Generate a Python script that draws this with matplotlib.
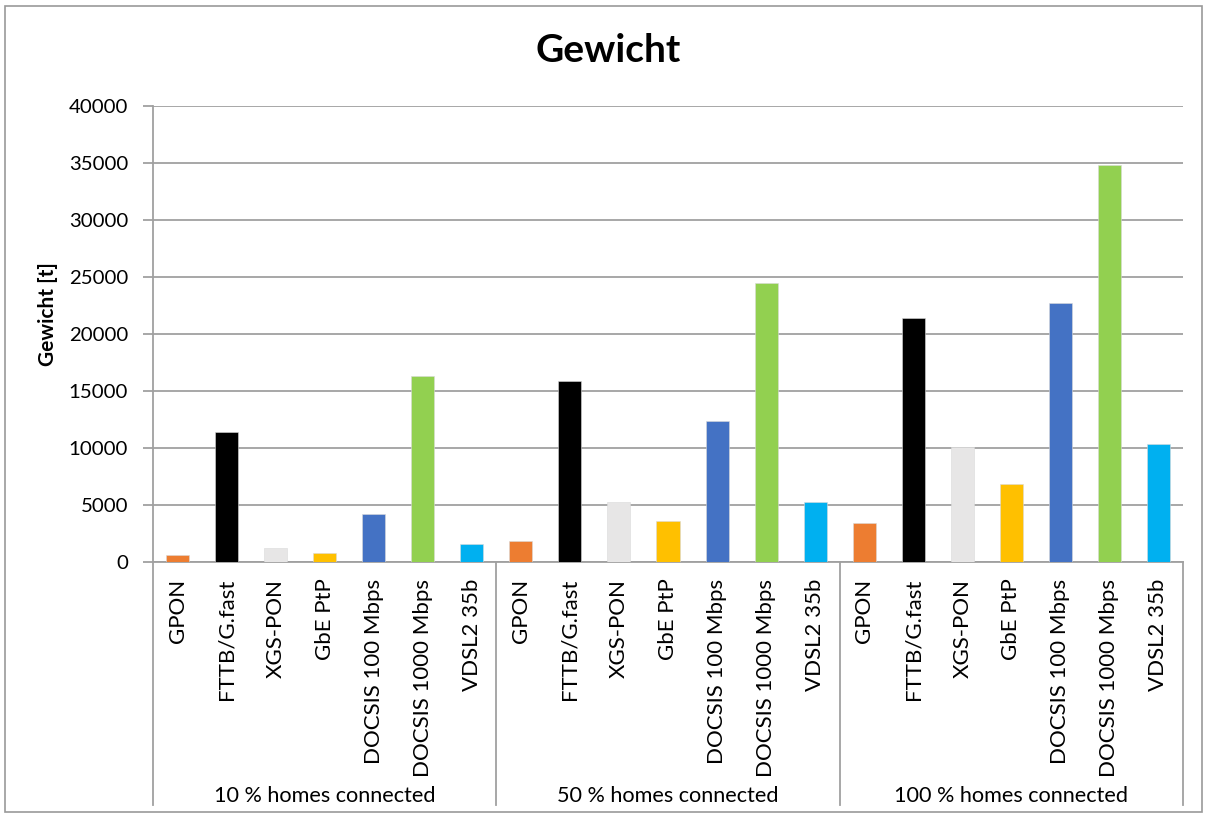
import matplotlib
matplotlib.use('Agg')
import matplotlib.pyplot as plt
from matplotlib.patches import Rectangle
from matplotlib.lines import Line2D
import matplotlib.transforms as mtransforms

plt.rcParams['font.family'] = ['Lato', 'DejaVu Sans']

# data
technologies = ['GPON', 'FTTB/G.fast', 'XGS-PON', 'GbE PtP',
                'DOCSIS 100 Mbps', 'DOCSIS 1000 Mbps', 'VDSL2 35b']
groups = ['10 % homes connected', '50 % homes connected', '100 % homes connected']
weight_10 = [600, 11400, 1250, 790, 4180, 16300, 1580]
weight_50 = [1840, 15900, 5260, 3600, 12370, 24470, 5260]
weight_100 = [3420, 21400, 10090, 6840, 22720, 34820, 10350]
colors = ['#ED7D31', '#000000', '#E7E6E6', '#FFC000', '#4472C4', '#92D050', '#00B0F0']

fig = plt.figure(figsize=(12.07, 8.17), dpi=100)
ax = fig.add_axes([153/1207, 1-562/817, (1183-153)/1207, (562-106)/817])

all_vals = [weight_10, weight_50, weight_100]
n = len(technologies)
labels = []
for g, vals in enumerate(all_vals):
    xs = [g*n + i for i in range(n)]
    ax.bar(xs, vals, width=0.47, color=colors, zorder=3,
           edgecolor='#d9d9d9', linewidth=0.4)
    labels += technologies

ax.set_xlim(-0.5, 3*n - 0.5)
ax.set_ylim(0, 40000)
ax.set_yticks(range(0, 40001, 5000))
ax.yaxis.grid(True, color='#a0a0a0', linewidth=1.3, zorder=0)
ax.set_axisbelow(True)
ax.set_xticks(range(3*n))
ax.set_xticklabels(labels, rotation=90, fontsize=16, va='top')
ax.tick_params(axis='x', length=0, pad=12)
ax.tick_params(axis='y', labelsize=14.7, length=7, color='#a0a0a0', width=1.3, pad=11)
for s in ['top', 'right']:
    ax.spines[s].set_visible(False)
ax.spines['left'].set_color('#a0a0a0')
ax.spines['left'].set_linewidth(1.3)
ax.spines['bottom'].set_color('#a0a0a0')
ax.spines['bottom'].set_linewidth(1.3)
ax.spines['bottom'].set_zorder(2)

fig.text(48/1207, 1 - 314/817, 'Gewicht [t]', rotation=90, fontsize=15,
         fontweight='bold', ha='center', va='center')
fig.text(608/1207, 1 - 51/817, 'Gewicht', fontsize=28, fontweight='bold',
         ha='center', va='center')

# group separators and labels
trans = mtransforms.blended_transform_factory(ax.transData, ax.transAxes)
bottom_y = (562 - 805) / 456
for k in range(4):
    xpos = k*n - 0.5
    ax.add_line(Line2D([xpos, xpos], [0, bottom_y], transform=trans,
                       color='#a0a0a0', linewidth=1.3, clip_on=False))
for g, name in enumerate(groups):
    ax.text(g*n + (n-1)/2, (562 - 796) / 456, name, transform=trans,
            ha='center', va='center', fontsize=15.6)

fig.add_artist(Rectangle((5/1207, 5/817), 1 - 10/1207, 1 - 11/817,
                         transform=fig.transFigure, fill=False,
                         edgecolor='#999999', linewidth=1.2))

fig.savefig('out.png', dpi=100)
